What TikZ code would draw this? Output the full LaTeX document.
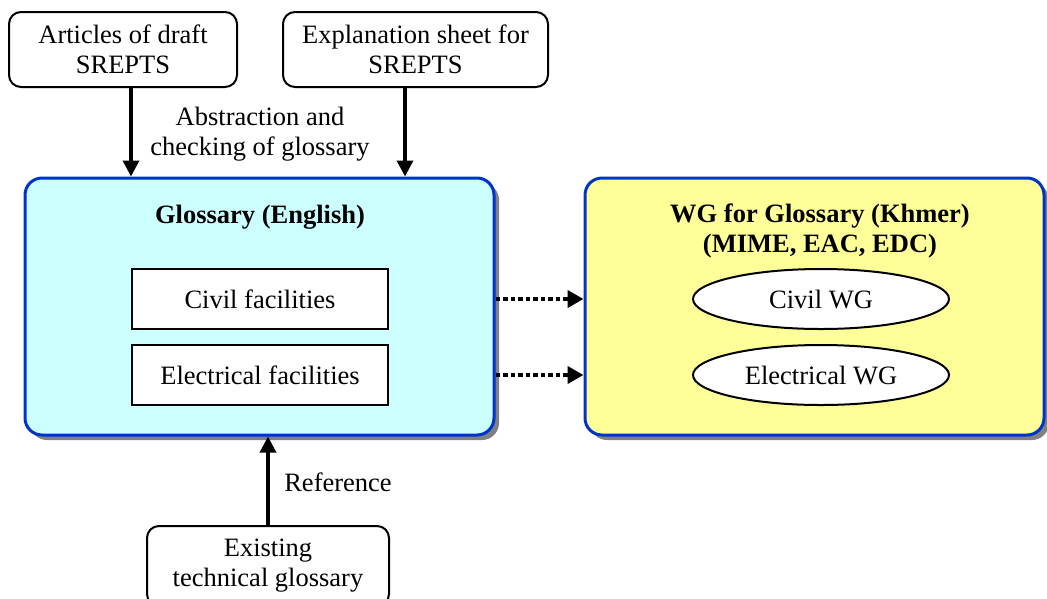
\documentclass[tikz,border=0pt]{standalone}
\usepackage{fontspec}
\setmainfont{Liberation Serif}
\usetikzlibrary{arrows.meta,shapes.geometric,shadows,calc}
\definecolor{bluefill}{HTML}{CCFFFF}
\definecolor{yellowfill}{HTML}{FFFF99}
\definecolor{bordblue}{HTML}{0033CC}
\definecolor{shadowgray}{HTML}{808080}
\tikzset{
  txt/.style={font=\fontsize{26.5}{30}\selectfont, align=center},
  srcbox/.style={txt, draw=black, line width=2pt, rounded corners=12pt, fill=white, inner sep=0pt},
  bigbox/.style={draw=bordblue, line width=3pt, rounded corners=17pt, inner sep=0pt,
     drop shadow={shadow xshift=5pt, shadow yshift=-5pt, fill=shadowgray, opacity=1}},
  subbox/.style={txt, draw=black, line width=2pt, fill=white, minimum width=256pt, minimum height=60pt, inner sep=0pt},
  wgell/.style={txt, ellipse, draw=black, line width=2pt, fill=white, minimum width=256pt, minimum height=60pt, inner sep=0pt},
  arr/.style={line width=3.5pt, -{Triangle[length=16pt,width=16pt]}},
  dotarr/.style={line width=4.5pt, dash pattern=on 4.5pt off 3pt, -{Triangle[length=16pt,width=17pt]}},
  lbl/.style={txt},
  ttl/.style={txt, font=\fontsize{26.5}{30}\selectfont\bfseries}
}
\begin{document}
\begin{tikzpicture}[x=1pt,y=-1pt]
\useasboundingbox (0,0) rectangle (1047,598);
% big boxes
\node[bigbox, fill=bluefill, minimum width=469pt, minimum height=257pt] (blue) at (259.5,306.5) {};
\node[bigbox, fill=yellowfill, minimum width=459pt, minimum height=257pt] (yellow) at (814.5,306.5) {};
% titles
\node[ttl] (gtitle) at (260,217) {Glossary (English)};
\node[ttl] (wtitle) at (820,231) {WG for Glossary (Khmer)\\(MIME, EAC, EDC)};
% inner boxes
\node[subbox] (civil) at (260,299) {Civil facilities};
\node[subbox] (elec) at (260,375) {Electrical facilities};
\node[wgell] (cwg) at (821,299) {Civil WG};
\node[wgell] (ewg) at (821,375) {Electrical WG};
% source boxes
\node[srcbox, minimum width=228pt, minimum height=75pt] (art) at (123,49.5) {Articles of draft\\SREPTS};
\node[srcbox, minimum width=265pt, minimum height=75pt] (expl) at (415.5,49.5) {Explanation sheet for\\SREPTS};
\node[srcbox, minimum width=242pt, minimum height=80pt] (exist) at (268,566) {Existing\\technical glossary};
% connector x positions
\coordinate (xa) at (131,0);
\coordinate (xb) at (405,0);
\coordinate (xr) at (268,0);
% arrows
\draw[arr] (art.south -| xa) -- (blue.north -| xa);
\draw[arr] (expl.south -| xb) -- (blue.north -| xb);
\draw[arr] (exist.north -| xr) -- (blue.south -| xr);
\draw[dotarr] (blue.east |- civil) -- (yellow.west |- cwg);
\draw[dotarr] (blue.east |- elec) -- (yellow.west |- ewg);
% labels
\node[lbl] (abs) at (260,134) {Abstraction and\\checking of glossary};
\node[lbl] (ref) at (338,482) {Reference};
\end{tikzpicture}
\end{document}
